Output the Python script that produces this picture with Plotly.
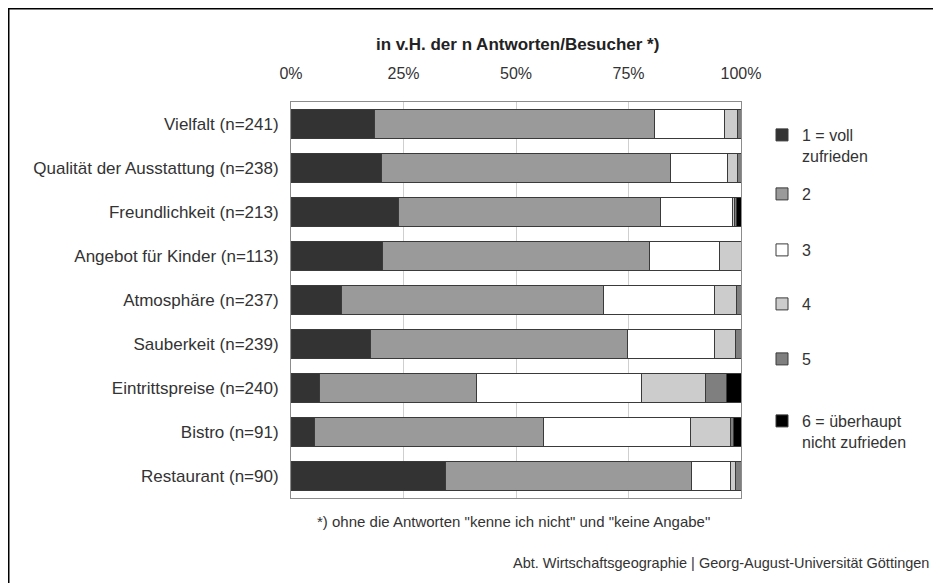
import plotly.graph_objects as go

categories = ["Vielfalt (n=241)", "Qualität der Ausstattung (n=238)", "Freundlichkeit (n=213)",
              "Angebot für Kinder (n=113)", "Atmosphäre (n=237)", "Sauberkeit (n=239)",
              "Eintrittspreise (n=240)", "Bistro (n=91)", "Restaurant (n=90)"]

s1 = [18.5, 20.1, 23.9, 20.3, 11.3, 17.6, 6.4, 5.3, 34.4]
s2 = [62.2, 64.3, 58.3, 59.3, 58.1, 57.2, 34.9, 50.8, 54.5]
s3 = [15.6, 12.6, 15.9, 15.6, 24.7, 19.3, 36.6, 32.7, 8.7]
s4 = [2.9, 2.2, 0.4, 4.8, 4.8, 4.6, 14.1, 8.9, 1.1]
s5 = [0.8, 0.8, 0.5, 0.0, 1.1, 1.3, 4.8, 0.7, 1.3]
s6 = [0.0, 0.0, 1.0, 0.0, 0.0, 0.0, 3.2, 1.6, 0.0]

series_names = ["1 = voll<br>zufrieden", "2", "3", "4", "5", "6 = überhaupt<br>nicht zufrieden"]
series_values = [s1, s2, s3, s4, s5, s6]
colors = ["#333333", "#9a9a9a", "#ffffff", "#cccccc", "#7f7f7f", "#000000"]

tick_vals = [0, 25, 50, 75, 100]
tick_text = ["0%", "25%", "50%", "75%", "100%"]

FONT = "Liberation Sans, Arial, sans-serif"
TXT = "#333333"

# page body has an 8px margin; figure sized to fit the window exactly
OFF = 8
W, H = 941 - OFF, 583 - OFF
# plot area in screen pixels: x 291..741, y 102..498
L, T = 291 - OFF, 102 - OFF
PW, PH = 450, 396
R = W - L - PW
B = H - T - PH


def px_x(px):
    return (px - OFF - L) / PW


def px_y(py):
    return (T + PH - (py - OFF)) / PH


legend_y_px = [118, 177, 233, 287, 342, 404]

fig = go.Figure()
for i, (name, vals, col) in enumerate(zip(series_names, series_values, colors)):
    lg = "legend" if i == 0 else f"legend{i + 1}"
    fig.add_trace(go.Bar(
        y=categories, x=vals, name=name, orientation="h",
        marker=dict(color=col, line=dict(color="#3a3a3a", width=1)),
        legend=lg,
    ))

legend_common = dict(
    x=px_x(762), xanchor="left", yanchor="top", valign="top",
    font=dict(family=FONT, size=16, color=TXT),
    bgcolor="rgba(0,0,0,0)", borderwidth=0,
)
legends = {}
for i, ypx in enumerate(legend_y_px):
    key = "legend" if i == 0 else f"legend{i + 1}"
    legends[key] = dict(legend_common, y=px_y(ypx))

fig.update_layout(
    width=W, height=H,
    margin=dict(l=L, r=R, t=T, b=B),
    barmode="stack", bargap=0.36,
    plot_bgcolor="white", paper_bgcolor="white",
    font=dict(family=FONT, size=16, color=TXT),
    showlegend=True,
    **legends,
)

fig.update_xaxes(
    range=[0, 100], side="top", tickvals=tick_vals, ticktext=tick_text,
    showgrid=True, gridcolor="#cfcfcf", gridwidth=1,
    showline=True, linecolor="#8c8c8c", linewidth=1, mirror=True,
    ticks="", ticklabelstandoff=16, zeroline=False,
    tickfont=dict(family=FONT, size=16, color=TXT), fixedrange=True,
)
fig.update_yaxes(
    categoryorder="array", categoryarray=categories, autorange="reversed",
    showline=True, linecolor="#8c8c8c", linewidth=1, mirror=True,
    ticks="", ticklabelstandoff=8, showgrid=False,
    tickfont=dict(family=FONT, size=17, color=TXT), fixedrange=True,
)

fig.add_annotation(
    text="<b>in v.H. der n Antworten/Besucher *)</b>", xref="paper", yref="paper",
    x=px_x(517), y=px_y(45), xanchor="center", yanchor="middle", showarrow=False,
    font=dict(family=FONT, size=17, color="#222222"),
)
fig.add_annotation(
    text="*) ohne die Antworten \"kenne ich nicht\" und \"keine Angabe\"", xref="paper", yref="paper",
    x=px_x(513), y=px_y(521), xanchor="center", yanchor="middle", showarrow=False,
    font=dict(family=FONT, size=15, color=TXT),
)
fig.add_annotation(
    text="Abt. Wirtschaftsgeographie | Georg-August-Universität Göttingen", xref="paper", yref="paper",
    x=px_x(931), y=px_y(563), xanchor="right", yanchor="middle", showarrow=False,
    font=dict(family=FONT, size=14.5, color=TXT),
)

# outer frame
fig.add_shape(
    type="rect", xref="paper", yref="paper",
    x0=px_x(8), x1=px_x(960), y0=px_y(600), y1=px_y(8),
    line=dict(color="black", width=3), fillcolor="rgba(0,0,0,0)", layer="above",
)

fig.write_html("out.html")
